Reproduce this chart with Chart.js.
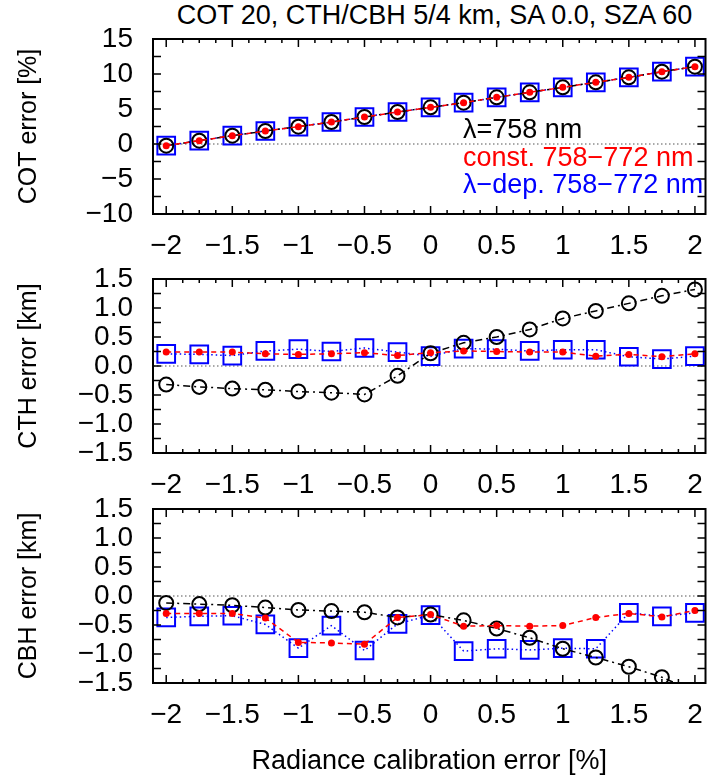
<!DOCTYPE html>
<html>
<head>
<meta charset="utf-8">
<script src="https://cdn.jsdelivr.net/npm/chart.js@4.4.1/dist/chart.umd.min.js"></script>
<style>
  body { margin: 0; background: #fff; }
  #wrap { position: relative; width: 721px; height: 781px; overflow: hidden; }
  #wrap canvas { position: absolute; left: 0; }
  #title { position: absolute; top: 0px; left: 153px; width: 563px; text-align: center;
           font: 27px "Liberation Sans", Arial, Helvetica, sans-serif; color: #000; white-space: nowrap; }
</style>
</head>
<body>
<div id="wrap">
  <div id="title">COT 20, CTH/CBH 5/4 km, SA 0.0, SZA 60</div>
  <canvas id="cot" width="721" height="260" style="top:0px"></canvas>
  <canvas id="cth" width="721" height="260" style="top:240px"></canvas>
  <canvas id="cbh" width="721" height="311" style="top:470px"></canvas>
</div>
<script>
// radiance calibration error [%]
const calibError = [-2, -1.75, -1.5, -1.25, -1, -0.75, -0.5, -0.25, 0, 0.25, 0.5, 0.75, 1, 1.25, 1.5, 1.75, 2];

const seriesNames = ['λ=758 nm', 'const. 758−772 nm', 'λ−dep. 758−772 nm'];
const seriesColors = ['#000000', '#ff0000', '#0000ff'];

// COT error [%]
const cotMono  = [-0.24, 0.48, 1.19, 1.86, 2.48, 3.14, 3.86, 4.57, 5.24, 5.90, 6.67, 7.38, 8.10, 8.81, 9.52, 10.33, 11.05];
const cotConst = [-0.24, 0.48, 1.19, 1.86, 2.48, 3.14, 3.86, 4.57, 5.24, 5.90, 6.67, 7.38, 8.10, 8.81, 9.52, 10.33, 11.05];
const cotDep   = [-0.24, 0.48, 1.19, 1.86, 2.48, 3.14, 3.86, 4.57, 5.24, 5.90, 6.67, 7.38, 8.10, 8.81, 9.52, 10.33, 11.05];

// CTH error [km]
const cthMono  = [-0.32, -0.36, -0.39, -0.41, -0.44, -0.46, -0.49, -0.17, 0.22, 0.40, 0.50, 0.63, 0.82, 0.95, 1.08, 1.21, 1.32];
const cthConst = [0.24, 0.24, 0.24, 0.21, 0.20, 0.21, 0.23, 0.18, 0.23, 0.26, 0.25, 0.24, 0.24, 0.17, 0.20, 0.16, 0.21];
const cthDep   = [0.21, 0.20, 0.18, 0.26, 0.29, 0.25, 0.31, 0.24, 0.17, 0.30, 0.29, 0.26, 0.28, 0.28, 0.16, 0.12, 0.17];

// CBH error [km]
const cbhMono  = [-0.12, -0.14, -0.16, -0.20, -0.24, -0.26, -0.28, -0.37, -0.32, -0.42, -0.56, -0.72, -0.91, -1.06, -1.22, -1.40, -1.65];
const cbhConst = [-0.30, -0.30, -0.30, -0.38, -0.80, -0.81, -0.83, -0.37, -0.32, -0.52, -0.51, -0.52, -0.51, -0.37, -0.30, -0.36, -0.25];
const cbhDep   = [-0.37, -0.35, -0.34, -0.49, -0.90, -0.51, -0.94, -0.48, -0.33, -0.95, -0.91, -0.93, -0.90, -0.91, -0.29, -0.35, -0.29];

// tick values and labels
const xTicks = [-2, -1.5, -1, -0.5, 0, 0.5, 1, 1.5, 2];
const xTickLabels = ['−2', '−1.5', '−1', '−0.5', '0', '0.5', '1', '1.5', '2'];
const xMinorStep = 0.125;
const cotTicks = [-10, -5, 0, 5, 10, 15];
const cotTickLabels = ['−10', '−5', '0', '5', '10', '15'];
const kmTicks = [-1.5, -1, -0.5, 0, 0.5, 1, 1.5];
const kmTickLabels = ['−1.5', '−1.0', '−0.5', '0.0', '0.5', '1.0', '1.5'];

const FONT = '"Liberation Sans", Arial, Helvetica, sans-serif';
Chart.defaults.font.family = FONT;
Chart.defaults.color = '#000';

// zero line, frame and inward gnuplot-style ticks
const framePlugin = {
  id: 'frame',
  beforeDatasetsDraw(chart) {
    const {ctx, chartArea: a, scales: {y}} = chart;
    const y0 = y.getPixelForValue(0);
    ctx.save();
    ctx.strokeStyle = '#555';
    ctx.lineWidth = 1.2;
    ctx.setLineDash([1.5, 2.5]);
    ctx.beginPath();
    ctx.moveTo(a.left, y0);
    ctx.lineTo(a.right, y0);
    ctx.stroke();
    ctx.restore();
  },
  afterDatasetsDraw(chart, args, opts) {
    const {ctx, chartArea: a, scales: {x, y}} = chart;
    ctx.save();
    ctx.strokeStyle = '#000';
    ctx.lineWidth = 1.5;
    ctx.beginPath();
    for (let v = -2; v <= 2.0001; v += xMinorStep) {
      const px = x.getPixelForValue(v);
      const len = xTicks.includes(+v.toFixed(3)) ? 8 : 4;
      ctx.moveTo(px, a.bottom); ctx.lineTo(px, a.bottom - len);
      ctx.moveTo(px, a.top); ctx.lineTo(px, a.top + len);
    }
    for (let v = y.min; v <= y.max + 1e-6; v += opts.yMinor) {
      const py = y.getPixelForValue(v);
      ctx.moveTo(a.left, py); ctx.lineTo(a.left + 8, py);
      ctx.moveTo(a.right, py); ctx.lineTo(a.right - 8, py);
    }
    ctx.stroke();
    ctx.lineWidth = 2;
    ctx.strokeRect(a.left, a.top, a.right - a.left, a.bottom - a.top);
    ctx.restore();
  }
};

// text-only key inside the top panel
const keyPlugin = {
  id: 'textKey',
  afterDraw(chart, args, opts) {
    if (!opts.show) return;
    const {ctx, chartArea: a} = chart;
    ctx.save();
    ctx.font = '27px ' + FONT;
    ctx.textAlign = 'left';
    ctx.textBaseline = 'middle';
    chart.data.datasets.forEach((ds, i) => {
      ctx.fillStyle = ds.borderColor;
      ctx.fillText(ds.label, a.left + 310, a.top + 92 + i * 27.5);
    });
    ctx.restore();
  }
};

function makeSeries(values, i) {
  const base = {
    label: seriesNames[i],
    data: calibError.map((x, k) => ({x: x, y: values[k]})),
    borderColor: seriesColors[i],
    pointBorderColor: seriesColors[i],
    borderWidth: 1.5,
    fill: false,
    tension: 0
  };
  if (i === 0) return Object.assign(base, {
    borderDash: [7, 4, 2, 4], pointStyle: 'circle', pointRadius: 7,
    pointBorderWidth: 2, pointBackgroundColor: 'rgba(0,0,0,0)', order: 1
  });
  if (i === 1) return Object.assign(base, {
    borderDash: [5, 4], pointStyle: 'circle', pointRadius: 3.5,
    pointBorderWidth: 0, pointBackgroundColor: seriesColors[i], order: 0
  });
  return Object.assign(base, {
    borderDash: [1.5, 3], pointStyle: 'rect', pointRadius: 12.5,
    pointBorderWidth: 2, pointBackgroundColor: 'rgba(0,0,0,0)', order: 2
  });
}

function makePanel(id, yTitle, series, yMin, yMax, yTicks, yLabels, yMinor, xAxisHeight, xTitle, showKey) {
  return new Chart(document.getElementById(id), {
    type: 'line',
    data: { datasets: series.map(makeSeries) },
    options: {
      responsive: false,
      animation: false,
      events: [],
      layout: { padding: { top: 39, right: 5, left: 0, bottom: 0 } },
      plugins: {
        legend: { display: false },
        tooltip: { enabled: false },
        frame: { yMinor: yMinor },
        textKey: { show: showKey }
      },
      scales: {
        x: {
          type: 'linear',
          min: -2.1, max: 2.08,
          grid: { display: false, drawTicks: false },
          border: { display: false },
          afterBuildTicks: s => { s.ticks = xTicks.map(v => ({value: v})); },
          afterFit: s => { s.height = xAxisHeight; },
          ticks: {
            autoSkip: false, maxRotation: 0, padding: 18,
            font: { size: 28, lineHeight: 1 },
            callback: (v, i) => xTickLabels[i]
          },
          title: {
            display: !!xTitle, text: xTitle || '',
            font: { size: 27, lineHeight: 1 }, padding: { top: 0, bottom: 6 }
          }
        },
        y: {
          type: 'linear',
          min: yMin, max: yMax,
          grid: { display: false, drawTicks: false },
          border: { display: false },
          afterBuildTicks: s => { s.ticks = yTicks.map(v => ({value: v})); },
          afterFit: s => { s.width = 153; },
          ticks: {
            autoSkip: false, padding: 20,
            font: { size: 28, lineHeight: 1 },
            callback: (v, i) => yLabels[i]
          },
          title: {
            display: true, text: yTitle,
            font: { size: 25, lineHeight: 1 }, padding: { top: 17, bottom: 0 }
          }
        }
      }
    },
    plugins: [framePlugin, keyPlugin]
  });
}

makePanel('cot', 'COT error [%]', [cotMono, cotConst, cotDep], -10, 15, cotTicks, cotTickLabels, 2.5, 46, null, true);
makePanel('cth', 'CTH error [km]', [cthMono, cthConst, cthDep], -1.5, 1.5, kmTicks, kmTickLabels, 0.25, 47, null, false);
makePanel('cbh', 'CBH error [km]', [cbhMono, cbhConst, cbhDep], -1.5, 1.5, kmTicks, kmTickLabels, 0.25, 98, 'Radiance calibration error [%]', false);
</script>
</body>
</html>
